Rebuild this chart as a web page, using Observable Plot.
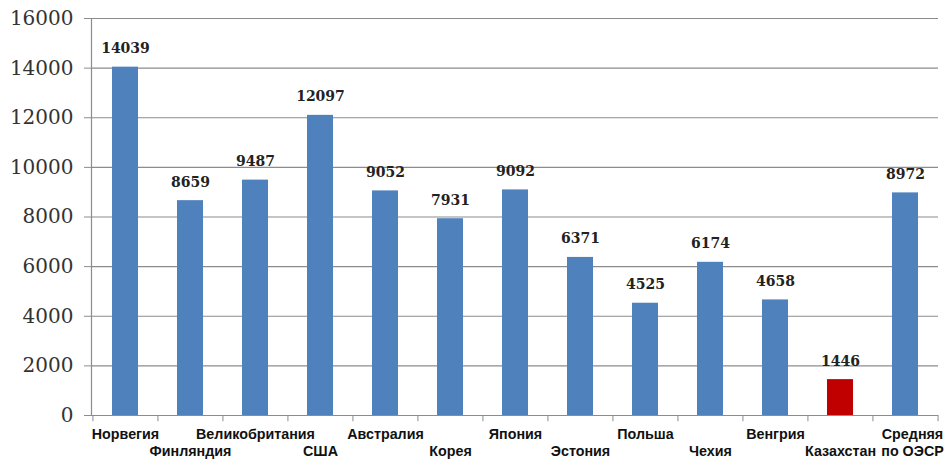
<!DOCTYPE html>
<html>
<head>
<meta charset="utf-8">
<script src="https://cdn.jsdelivr.net/npm/d3@7"></script>
<script src="https://cdn.jsdelivr.net/npm/@observablehq/plot@0.6"></script>
<style>
  html, body { margin: 0; padding: 0; background: #fff; }
  #chart { width: 947px; height: 463px; }
</style>
</head>
<body>
<div id="chart"></div>
<script>
const countries = ["Норвегия","Финляндия","Великобритания","США","Австралия","Корея","Япония","Эстония","Польша","Чехия","Венгрия","Казахстан","Средняя по ОЭСР"];
const values = [14039, 8659, 9487, 12097, 9052, 7931, 9092, 6371, 4525, 6174, 4658, 1446, 8972];
const highlight = ["Казахстан"];
const labelLine1 = ["Норвегия","","Великобритания","","Австралия","","Япония","","Польша","","Венгрия","","Средняя"];
const labelLine2 = ["","Финляндия","","США","","Корея","","Эстония","","Чехия","","Казахстан","по ОЭСР"];
const yTicks = [0, 2000, 4000, 6000, 8000, 10000, 12000, 14000, 16000];

const data = countries.map((c, i) => ({country: c, value: values[i], l1: labelLine1[i], l2: labelLine2[i]}));
const main = data.slice(0, -1);
const last = data.slice(-1);

const W = 947, H = 463, ML = 91, MR = 9, MT = 18, MB = 48;
const halfStep = (W - ML - MR) / countries.length / 2;
const labelFont = {fontWeight: "bold", fontSize: 14.3, fontFamily: "Liberation Sans, Arial, sans-serif", fill: "#111"};

const chart = Plot.plot({
  width: W, height: H,
  marginLeft: ML, marginRight: MR, marginTop: MT, marginBottom: MB,
  x: {domain: countries, paddingInner: 0.6, paddingOuter: 0.3, axis: null},
  y: {domain: [0, 16000], axis: null},
  marks: [
    Plot.gridY(yTicks, {stroke: "#8c8c8c", strokeOpacity: 1, strokeWidth: 1.2}),
    Plot.axisY(yTicks, {label: null, tickSize: 7, tickPadding: 11, stroke: "#8c8c8c", fontSize: 20, fontFamily: "DejaVu Serif, Liberation Serif, serif", fill: "#333", tickFormat: d => String(d)}),
    Plot.frame({anchor: "left", stroke: "#8c8c8c", strokeWidth: 1.2}),
    Plot.barY(data, {x: "country", y: "value", fill: d => highlight.includes(d.country) ? "#c00000" : "#4f81bd"}),
    Plot.ruleY([0], {stroke: "#8c8c8c", strokeWidth: 1.2}),
    Plot.ruleX(data, {x: "country", y1: 0, y2: -250, dx: -halfStep, stroke: "#8c8c8c"}),
    Plot.ruleX(last, {x: "country", y1: 0, y2: -250, dx: halfStep, stroke: "#8c8c8c"}),
    Plot.text(data, {x: "country", y: "value", text: d => String(d.value), dy: -14, lineAnchor: "bottom", fontWeight: "bold", fontSize: 14, fontFamily: "DejaVu Serif, Liberation Serif, serif", fill: "#222"}),
    Plot.text(main, {x: "country", y: 0, text: "l1", dy: 19, ...labelFont}),
    Plot.text(main, {x: "country", y: 0, text: "l2", dy: 36, ...labelFont}),
    Plot.text(last, {x: "country", y: 0, text: "l1", dy: 19, dx: 7, ...labelFont}),
    Plot.text(last, {x: "country", y: 0, text: "l2", dy: 36, dx: 7, ...labelFont})
  ]
});
document.getElementById("chart").appendChild(chart);
</script>
</body>
</html>
